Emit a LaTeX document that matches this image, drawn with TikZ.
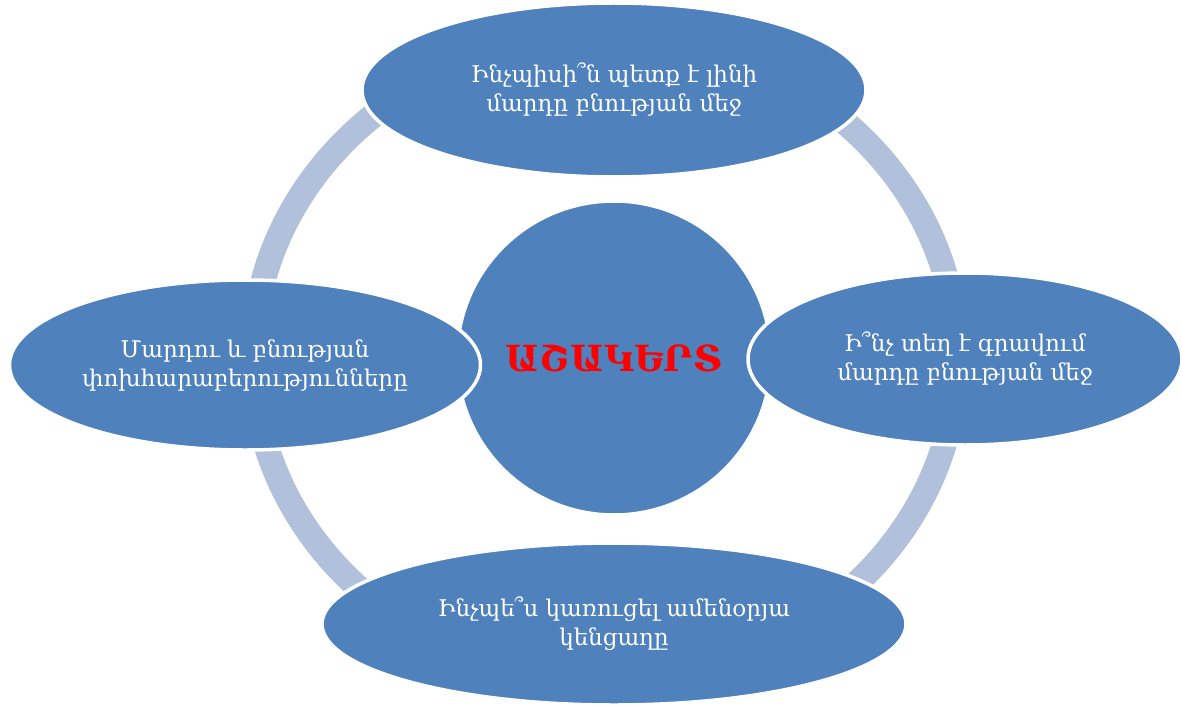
\documentclass[tikz,border=0pt]{standalone}
\usepackage{fontspec}
\setmainfont{DejaVu Serif}
\usetikzlibrary{shapes.geometric}
\definecolor{topicblue}{RGB}{79,129,189}
\definecolor{ringblue}{RGB}{178,193,219}
\definecolor{pupilred}{RGB}{255,0,0}

\begin{document}
\begin{tikzpicture}[x=1pt, y=-1pt,
	topic/.style={ellipse, draw=white, line width=3.5pt, fill=topicblue, inner sep=0pt, text=white, align=center, font=\fontsize{23}{29}\selectfont},
	pupil/.style={circle, draw=white, line width=3.5pt, fill=topicblue, inner sep=0pt, minimum size=314pt, text=pupilred, font=\fontsize{36}{40}\selectfont\bfseries}]
	\useasboundingbox (0,0) rectangle (1182,706);
	% ring behind everything
	\coordinate (hub) at (605,358);
	\draw[ringblue, line width=25pt] (hub) ellipse [x radius=352, y radius=322];
	\node (p0) at (614,358)[pupil]{ԱՇԱԿԵՐՏ};
	\node (t1) at (614,90)[topic, minimum width=504pt, minimum height=174pt]{Ինչպիսի՞ն պետք է լինի\\մարդը բնության մեջ};
	\node (t2) at (965,359)[topic, minimum width=434pt, minimum height=172pt]{Ի՞նչ տեղ է գրավում\\մարդը բնության մեջ};
	\node (t3) at (614,624)[topic, minimum width=584pt, minimum height=162pt]{Ինչպե՞ս կառուցել ամենօրյա\\կենցաղը};
	\node (t4) at (245,365)[topic, minimum width=471pt, minimum height=170pt]{Մարդու և բնության\\փոխհարաբերությունները};
\end{tikzpicture}
\end{document}
